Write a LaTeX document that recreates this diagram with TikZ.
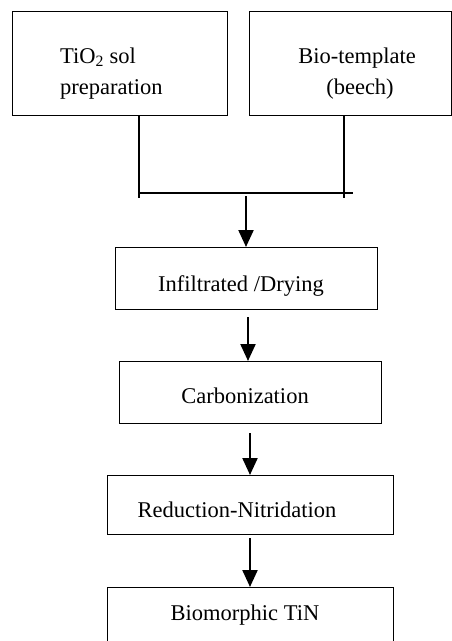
\documentclass[tikz,border=0pt]{standalone}
\usepackage{fontspec}
\setmainfont{Liberation Serif}
\usetikzlibrary{arrows.meta}
\begin{document}
\begin{tikzpicture}[x=1pt,y=-1pt,
  stepbox/.style={draw, line width=1.2pt, rectangle, inner sep=0pt, anchor=north west},
  lbl/.style={font=\fontsize{22.5}{27}\selectfont, inner sep=0pt},
  flow/.style={line width=2.2pt, -{Triangle[length=17pt,width=15pt]}},
  conn/.style={line width=1.2pt}]
\useasboundingbox (0,0) rectangle (452,641);
\fill[white] (0,0) rectangle (452,641);
% boxes
\node[stepbox, minimum width=215pt, minimum height=104pt] (sol) at (12,11) {};
\node[stepbox, minimum width=202pt, minimum height=104pt] (bio) at (249,11) {};
\node[stepbox, minimum width=262pt, minimum height=62pt] (inf) at (115,247) {};
\node[stepbox, minimum width=262pt, minimum height=62pt] (carb) at (119,361) {};
\node[stepbox, minimum width=286pt, minimum height=59pt] (red) at (107,475) {};
\node[stepbox, minimum width=286pt, minimum height=70pt] (tin) at (107,587) {};
% texts
\node[lbl, anchor=base west] (t1) at (60,63) {TiO\textsubscript{2} sol};
\node[lbl, anchor=base west] (t2) at (60,94) {preparation};
\node[lbl, anchor=base] (t3) at (357,63) {Bio-template};
\node[lbl, anchor=base] (t4) at (360,94) {(beech)};
\node[lbl, anchor=base] (t5) at (241,291) {Infiltrated /Drying};
\node[lbl, anchor=base] (t6) at (245,403) {Carbonization};
\node[lbl, anchor=base] (t7) at (237,517) {Reduction-Nitridation};
\node[lbl, anchor=base] (t8) at (245,620) {Biomorphic TiN};
% merge connectors
\coordinate (jl) at (139,198);
\coordinate (jr) at (344,198);
\coordinate (hl) at (139,193);
\coordinate (hr) at (353,193);
\coordinate (ms) at (246,196);
\draw[conn] (sol.south -| jl) -- (jl);
\draw[conn] (bio.south -| jr) -- (jr);
\draw[conn] (hl) -- (hr);
\draw[flow] (ms) -- (inf.north -| ms);
\coordinate (a2) at (248,317);
\draw[flow] (a2) -- (carb.north -| a2);
\coordinate (a3) at (250,433);
\draw[flow] (a3) -- (red.north -| a3);
\coordinate (a4) at (250,538);
\draw[flow] (a4) -- (tin.north -| a4);
\end{tikzpicture}
\end{document}
